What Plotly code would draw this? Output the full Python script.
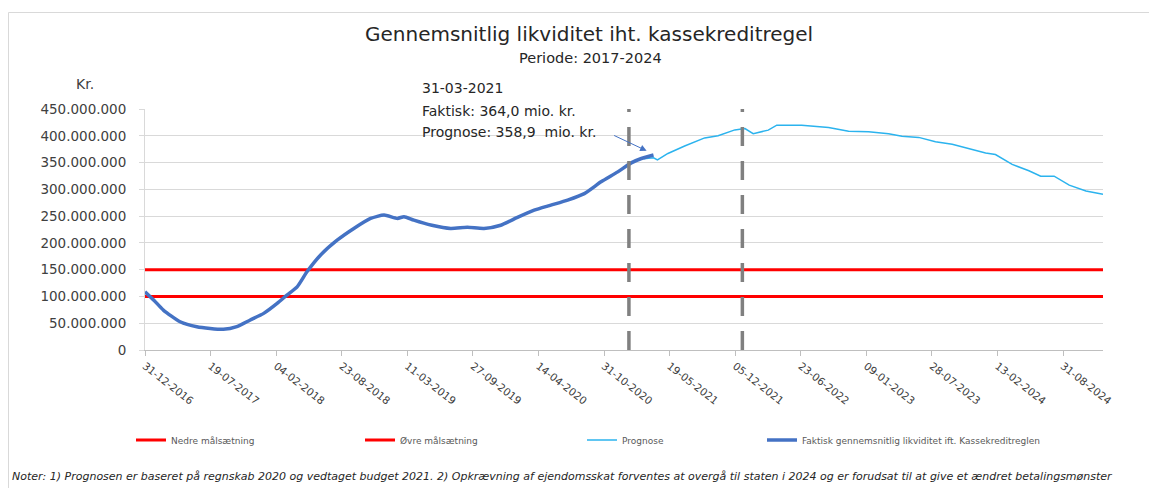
import plotly.graph_objects as go

# ---------------- data ----------------
faktisk_datoer = ["2016-12-31", "2017-01-27", "2017-02-25", "2017-04-17", "2017-06-07", "2017-08-27",
                  "2017-10-07", "2017-11-17", "2017-12-28", "2018-02-07", "2018-03-09", "2018-04-09",
                  "2018-05-09", "2018-06-19", "2018-08-09", "2018-09-29", "2018-11-19", "2018-12-30",
                  "2019-02-09", "2019-03-01", "2019-03-31", "2019-05-25", "2019-07-21", "2019-09-10",
                  "2019-10-31", "2019-12-21", "2020-02-10", "2020-04-01", "2020-05-22", "2020-07-12",
                  "2020-09-01", "2020-10-22", "2020-12-12", "2021-01-22", "2021-02-22", "2021-03-31"]
faktisk_mio = [108.8, 93.0, 74.6, 52.8, 43.5, 38.6,
               43.5, 56.0, 68.4, 87.0, 102.6, 118.0,
               146.0, 177.0, 205.0, 227.0, 245.7, 251.9,
               245.7, 249.0, 242.5, 233.0, 227.0, 229.0,
               227.0, 233.0, 247.5, 261.0, 270.5, 280.0,
               292.0, 314.0, 332.6, 349.4, 357.6, 364.0]

prognose_datoer = ["2021-03-01", "2021-03-31", "2021-04-12", "2021-05-14", "2021-07-04", "2021-09-03",
                   "2021-10-14", "2021-12-04", "2022-01-04", "2022-01-29", "2022-03-16", "2022-04-11",
                   "2022-06-26", "2022-09-16", "2022-11-16", "2023-01-16", "2023-03-18", "2023-04-28",
                   "2023-06-18", "2023-08-08", "2023-09-28", "2023-11-18", "2024-01-08", "2024-02-07",
                   "2024-03-29", "2024-05-19", "2024-06-24", "2024-08-04", "2024-09-19", "2024-11-09",
                   "2024-12-31"]
prognose_mio = [357.0, 358.9, 355.0, 367.0, 381.0, 396.0,
                400.0, 411.0, 413.6, 404.0, 410.5, 419.8,
                419.8, 415.5, 408.6, 407.3, 404.0, 399.0,
                397.0, 388.8, 384.0, 376.0, 368.0, 365.0,
                346.5, 334.6, 324.6, 324.6, 307.8, 297.0,
                291.0]

nedre_maal = 100_000_000
oevre_maal = 150_000_000
periode = ["2016-12-31", "2024-12-31"]

skillelinjer = ["2021-01-15", "2021-12-27"]

x_tick_datoer = ["2016-12-31", "2017-07-19", "2018-02-04", "2018-08-23", "2019-03-11", "2019-09-27",
                 "2020-04-14", "2020-10-31", "2021-05-19", "2021-12-05", "2022-06-23", "2023-01-09",
                 "2023-07-28", "2024-02-13", "2024-08-31"]
x_tick_tekst = ["31-12-2016", "19-07-2017", "04-02-2018", "23-08-2018", "11-03-2019", "27-09-2019",
                "14-04-2020", "31-10-2020", "19-05-2021", "05-12-2021", "23-06-2022", "09-01-2023",
                "28-07-2023", "13-02-2024", "31-08-2024"]

y_ticks = [0, 50e6, 100e6, 150e6, 200e6, 250e6, 300e6, 350e6, 400e6, 450e6]

# ---------------- figure ----------------
FONT = "'DejaVu Sans', 'Open Sans', sans-serif"
OFF = 8                      # page body margin
W, H = 1157 - OFF, 488 - OFF
L = 145 - OFF
T = 109 - OFF
R = (OFF + W) - 1103
B = H - (350 - OFF)
PW, PH = W - L - R, H - T - B


def px(xp):
    return (xp - OFF - L) / PW


def py(yp):
    return (H - B - (yp - OFF)) / PH


fig = go.Figure()

fig.add_trace(go.Scatter(x=periode, y=[nedre_maal] * 2, mode="lines", name="Nedre målsætning",
                         line=dict(color="#FF0000", width=3), legend="legend"))
fig.add_trace(go.Scatter(x=periode, y=[oevre_maal] * 2, mode="lines", name="Øvre målsætning",
                         line=dict(color="#FF0000", width=3), legend="legend2"))
fig.add_trace(go.Scatter(x=prognose_datoer, y=[v * 1e6 for v in prognose_mio], mode="lines",
                         name="Prognose", line=dict(color="#2BB3EE", width=1.5), legend="legend3"))
fig.add_trace(go.Scatter(x=faktisk_datoer, y=[v * 1e6 for v in faktisk_mio], mode="lines",
                         name="Faktisk gennemsnitlig likviditet ift. Kassekreditreglen",
                         line=dict(color="#4472C4", width=3.5, shape="spline", smoothing=0.6),
                         legend="legend4"))

for d in skillelinjer:
    fig.add_shape(type="line", xref="x", yref="y", x0=d, x1=d, y0=0, y1=450e6,
                  line=dict(color="#808080", width=3.5, dash="19px,15px"), layer="above")

# chart border
fig.add_shape(type="rect", xref="paper", yref="paper", x0=px(8.5), x1=px(1200), y0=py(540), y1=py(12.5),
              line=dict(color="#D9D9D9", width=1), layer="below")

leg_font = dict(family=FONT, size=9, color="#595959")
leg_common = dict(orientation="h", yanchor="middle", xanchor="left", font=leg_font,
                  bgcolor="rgba(0,0,0,0)", itemwidth=30, tracegroupgap=0)
legend_y = py(440)

txt = "#262626"
annotations = [
    dict(text="Gennemsnitlig likviditet iht. kassekreditregel", x=px(589), y=py(34), xref="paper", yref="paper",
         showarrow=False, xanchor="center", yanchor="middle", font=dict(family=FONT, size=20, color=txt)),
    dict(text="Periode: 2017-2024", x=px(590), y=py(58), xref="paper", yref="paper",
         showarrow=False, xanchor="center", yanchor="middle", font=dict(family=FONT, size=14.5, color=txt)),
    dict(text="Kr.", x=px(85), y=py(84), xref="paper", yref="paper", showarrow=False,
         xanchor="center", yanchor="middle", font=dict(family=FONT, size=14, color="#404040")),
    dict(text="31-03-2021", x=px(420), y=py(88), xref="paper", yref="paper", showarrow=False,
         xanchor="left", yanchor="middle", font=dict(family=FONT, size=14, color=txt)),
    dict(text="Faktisk: 364,0 mio. kr.", x=px(420), y=py(111), xref="paper", yref="paper", showarrow=False,
         xanchor="left", yanchor="middle", font=dict(family=FONT, size=14, color=txt)),
    dict(text="Prognose: 358,9  mio. kr.", x=px(420), y=py(132), xref="paper", yref="paper", showarrow=False,
         xanchor="left", yanchor="middle", font=dict(family=FONT, size=14, color=txt)),
    dict(text="", x="2021-03-10", y=372e6, xref="x", yref="y", showarrow=True, ax=-34, ay=-16,
         arrowcolor="#4472C4", arrowwidth=1, arrowhead=2, arrowsize=1.3),
    dict(text="<i>Noter: 1) Prognosen er baseret på regnskab 2020 og vedtaget budget 2021. 2) Opkrævning af "
              "ejendomsskat forventes at overgå til staten i 2024 og er forudsat til at give et ændret "
              "betalingsmønster</i>",
         x=px(10), y=py(476), xref="paper", yref="paper", showarrow=False, xanchor="left", yanchor="middle",
         font=dict(family=FONT, size=11, color=txt)),
]

fig.update_layout(
    width=W, height=H,
    margin=dict(l=L, r=R, t=T, b=B, autoexpand=False),
    paper_bgcolor="white", plot_bgcolor="white",
    separators=",.",
    font=dict(family=FONT, color="#404040"),
    showlegend=True,
    legend=dict(x=px(131), y=legend_y, **leg_common),
    legend2=dict(x=px(360), y=legend_y, **leg_common),
    legend3=dict(x=px(582), y=legend_y, **leg_common),
    legend4=dict(x=px(762), y=legend_y, **leg_common),
    annotations=annotations,
    xaxis=dict(
        type="date", range=periode, tickmode="array", tickvals=x_tick_datoer, ticktext=x_tick_tekst,
        tickangle=38, tickfont=dict(family=FONT, size=10.5, color="#404040"),
        showgrid=False, showline=True, linecolor="#BFBFBF", linewidth=1,
        ticks="outside", ticklen=5, tickcolor="#BFBFBF", zeroline=False,
    ),
    yaxis=dict(
        range=[0, 450e6], tickmode="array", tickvals=y_ticks, tickformat=",.0f",
        tickfont=dict(family=FONT, size=13.5, color="#404040"),
        showgrid=True, gridcolor="#D9D9D9", gridwidth=1,
        showline=True, linecolor="#D9D9D9", linewidth=1,
        ticks="outside", ticklen=5, tickcolor="#D9D9D9", zeroline=False,
        ticklabelstandoff=10,
    ),
)

fig.write_html("out.html")
